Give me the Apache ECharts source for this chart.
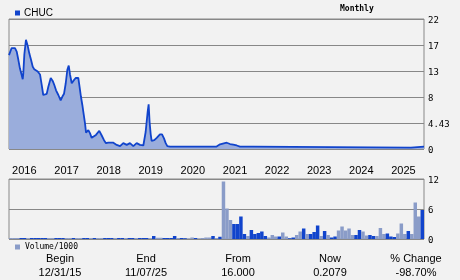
<!DOCTYPE html>
<html><head><meta charset="utf-8">
<script src="https://cdn.jsdelivr.net/npm/echarts@6/dist/echarts.min.js"></script>
<style>html,body{margin:0;padding:0;background:#f2f2f2}#c{width:460px;height:280px}</style>
</head><body><div id="c"></div>
<script>
// ---- data ----
const priceDates = ['2015-12-31','2016-01-23','2016-02-21','2016-03-07','2016-03-21','2016-04-04','2016-04-19','2016-04-28','2016-05-03','2016-05-12','2016-05-26','2016-06-10','2016-06-24','2016-07-09','2016-07-24','2016-08-06','2016-09-05','2016-09-25','2016-10-10','2016-10-23','2016-11-07','2016-11-22','2016-12-06','2016-12-27','2017-01-13','2017-01-27','2017-02-11','2017-03-03','2017-03-23','2017-04-06','2017-04-21','2017-05-06','2017-05-20','2017-06-01','2017-06-12','2017-06-27','2017-07-11','2017-07-31','2017-08-23','2017-09-01','2017-09-15','2017-09-27','2017-10-05','2017-10-20','2017-10-29','2017-11-18','2017-12-02','2017-12-17','2017-12-31','2018-01-23','2018-02-21','2018-03-14','2018-04-03','2018-04-20','2018-05-10','2018-06-20','2018-07-22','2018-08-20','2018-09-17','2018-10-17','2018-11-14','2018-12-13','2019-01-11','2019-02-09','2019-03-10','2019-03-30','2019-04-17','2019-04-25','2019-05-04','2019-05-13','2019-05-21','2019-06-13','2019-07-04','2019-07-18','2019-08-01','2019-08-19','2019-09-05','2019-09-20','2019-10-04','2019-10-27','2020-08-25','2020-09-09','2020-09-29','2020-12-01','2021-01-03','2021-03-02','2021-03-31','2021-04-28','2021-05-28','2021-06-25','2021-10-16','2021-11-02','2025-07-17','2025-07-26','2025-11-07'];
const priceValues = [16.0,17.2,17.2,16.6,15.2,13.7,12.6,11.9,12.9,16.1,18.6,17.6,16.3,15.2,14.0,13.6,13.2,12.7,10.9,9.2,9.4,9.4,10.6,12.1,11.6,10.9,10.0,9.2,8.3,8.9,9.4,11.2,13.5,14.2,12.7,11.2,11.6,12.1,12.1,10.9,8.9,7.5,6.4,4.4,2.8,3.2,2.7,1.9,2.0,2.4,3.1,2.3,1.5,1.0,1.1,1.1,0.7,0.5,1.0,0.7,1.0,0.5,1.0,0.7,0.6,2.9,6.4,7.6,4.4,2.5,1.4,1.5,1.9,2.2,2.5,2.5,1.8,1.0,0.5,0.4,0.4,0.6,0.4,0.4,0.8,1.07,0.85,0.75,0.6,0.4,0.4,0.22,0.22,0.42,0.42];

const volMonths = [];
for (let y = 2016; y <= 2025; y++) for (let m = 1; m <= 12; m++) {
  if (y === 2025 && m > 11) break;
  volMonths.push(y + '-' + String(m).padStart(2, '0'));
}
const volValues = [0.2,0.2,0.2,0.2,0.2,0.15,0.2,0.2,0.2,0.2,0.2,0.2,0.2,0.2,0.2,0.2,0.2,0.2,0.2,0.2,0.2,0.2,0.2,0.2,0.2,0.2,0.2,0.2,0.2,0.2,0.2,0.2,0.2,0.2,0.2,0.2,0.2,0.2,0.2,0.2,0.15,0.6,0.25,0.25,0.2,0.2,0.2,0.6,0.2,0.2,0.15,0.1,0.3,0.2,0.1,0.2,0.3,0.3,0.6,0.2,0.45,
  11.5,6.1,3.8,3.0,3.0,4.5,1.0,0.6,1.8,1.0,1.2,1.5,0.6,0.3,0.8,0.5,0.5,1.3,0.5,0.15,0.3,0.8,1.5,2.1,1.0,1.0,1.4,2.7,0.6,1.6,0.8,0.3,0.5,1.7,2.5,1.7,2.1,0.8,0.8,1.8,1.5,0.7,0.8,0.6,0.6,2.2,1.0,1.1,0.5,0.4,1.1,3.1,1.0,1.6,1.0,7.3,4.5,5.8];
// 1 = up month (dark bar), 0 = down month (light bar)
const volUp = [0,0,0,1,1,0,1,1,1,1,1,0,0,1,1,1,0,0,1,0,0,1,1,0,1,0,0,1,1,1,0,1,1,0,1,1,0,1,1,1,0,1,0,0,1,1,1,1,0,1,1,0,0,1,0,0,0,0,1,0,1,
  0,0,0,1,1,1,1,0,1,1,1,1,1,0,0,0,1,0,0,1,1,0,0,1,0,1,1,1,0,1,0,1,1,0,0,0,0,0,1,1,0,0,1,1,0,0,0,1,1,1,0,0,0,1,0,0,0,1];

const priceTickLabels = ['0','4.43','8','13','17','22'];
const volTickLabels = ['0','6','12'];
const info = [['Begin','12/31/15'],['End','11/07/25'],['From','16.000'],['Now','0.2079'],['% Change','-98.70%']];

// ---- chart ----
const DARK = '#1144cc', LIGHT = '#8a9cc8', GRIDC = '#888888';
const chart = echarts.init(document.getElementById('c'), null, {renderer: 'canvas'});
const infoX = [60, 146, 238, 330, 416];
const graphics = [];
info.forEach((p, i) => {
  graphics.push({type: 'text', x: infoX[i], y: 253, style: {text: p[0], font: '11px "Liberation Sans"', fill: '#000', textAlign: 'center'}});
  graphics.push({type: 'text', x: infoX[i], y: 267, style: {text: p[1], font: '11px "Liberation Sans"', fill: '#000', textAlign: 'center'}});
});
graphics.push({type: 'text', x: 340, y: 5, style: {text: 'Monthly', font: 'bold 8px "DejaVu Sans Mono"', fill: '#000'}});

const yLabel = {margin: 4, fontFamily: 'DejaVu Sans Mono', fontSize: 9, color: '#000', verticalAlign: 'top', lineHeight: 4};

chart.setOption({
  backgroundColor: '#f2f2f2',
  animation: false,
  legend: [
    {data: ['CHUC'], left: 10, top: 3, icon: 'rect', itemWidth: 5, itemHeight: 5, itemGap: 4,
     textStyle: {fontFamily: 'Liberation Sans', fontSize: 10, color: '#000', padding: [0,0,0,-1]}},
    {data: ['Volume/1000'], left: 10, top: 238, icon: 'rect', itemWidth: 5, itemHeight: 5, itemGap: 3,
     textStyle: {fontFamily: 'DejaVu Sans Mono', fontSize: 8, color: '#000'}}
  ],
  grid: [
    {left: 9, right: 36, top: 19, height: 130, show: true, borderColor: GRIDC, borderWidth: 1, backgroundColor: 'transparent'},
    {left: 9, right: 36, top: 179, height: 60, show: true, borderColor: GRIDC, borderWidth: 1, backgroundColor: 'transparent'}
  ],
  xAxis: [
    {type: 'time', gridIndex: 0, min: '2015-12-31', max: '2025-11-07', splitNumber: 10,
     minInterval: 365 * 864e5, maxInterval: 366 * 864e5,
     axisLine: {show: false}, axisTick: {show: false}, splitLine: {show: false},
     axisLabel: {formatter: '{yyyy}', fontFamily: 'Liberation Sans', fontSize: 11, color: '#000', align: 'left', margin: 16,
       padding: [0, 0, 0, 3], showMinLabel: false, showMaxLabel: false}},
    {type: 'category', gridIndex: 1, data: volMonths, boundaryGap: true,
     axisLine: {show: false}, axisTick: {show: false}, axisLabel: {show: false}, splitLine: {show: false}}
  ],
  yAxis: [
    {type: 'value', gridIndex: 0, position: 'right', min: 0, max: 22.15, interval: 4.43,
     axisLine: {show: false}, axisTick: {show: false},
     splitLine: {show: true, lineStyle: {color: GRIDC, width: 1}},
     axisLabel: Object.assign({}, yLabel, {formatter: v => priceTickLabels[Math.round(v / 4.43)]})},
    {type: 'value', gridIndex: 1, position: 'right', min: 0, max: 12, interval: 6,
     axisLine: {show: false}, axisTick: {show: false},
     splitLine: {show: true, lineStyle: {color: GRIDC, width: 1}},
     axisLabel: Object.assign({}, yLabel, {formatter: v => volTickLabels[Math.round(v / 6)]})}
  ],
  series: [
    {name: 'CHUC', type: 'line', xAxisIndex: 0, yAxisIndex: 0, showSymbol: false, symbol: 'none',
     data: priceDates.map((d, i) => [d, priceValues[i]]),
     itemStyle: {color: DARK}, lineStyle: {color: DARK, width: 1.8},
     areaStyle: {color: '#9aaddc', opacity: 1}},
    {name: 'Volume/1000', type: 'bar', xAxisIndex: 1, yAxisIndex: 1, barCategoryGap: 0, barGap: 0,
     itemStyle: {color: LIGHT},
     data: volValues.map((v, i) => ({value: v, itemStyle: {color: volUp[i] ? DARK : LIGHT}}))}
  ],
  graphic: graphics
});
</script>
</body></html>
